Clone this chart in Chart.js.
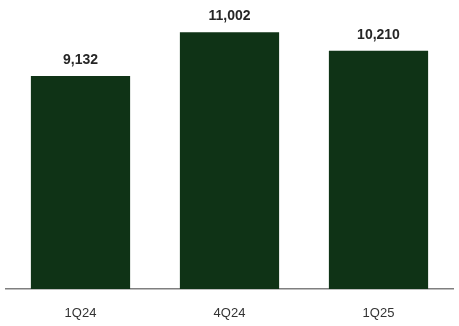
<!DOCTYPE html>
<html>
<head>
<meta charset="utf-8">
<script src="https://cdn.jsdelivr.net/npm/chart.js@4/dist/chart.umd.min.js"></script>
<style>
  html, body { margin: 0; padding: 0; background: #fff; }
  #wrap { width: 459px; height: 326px; position: relative; }
</style>
</head>
<body>
<div id="wrap"><canvas id="chart"></canvas></div>
<script>
const quarters = ['1Q24', '4Q24', '1Q25'];
const values = [9132, 11002, 10210];

const BAR_COLOR = '#0f3316';
const TEXT_COLOR = '#262626';

// draws the number above each bar, using the bar element positions
const valueLabels = {
  id: 'valueLabels',
  afterDatasetsDraw(chart) {
    const { ctx } = chart;
    const meta = chart.getDatasetMeta(0);
    ctx.save();
    ctx.font = 'bold 14px "Liberation Sans", Arial, sans-serif';
    ctx.fillStyle = TEXT_COLOR;
    ctx.textAlign = 'center';
    ctx.textBaseline = 'bottom';
    meta.data.forEach((bar, i) => {
      ctx.fillText(values[i].toLocaleString('en-US'), bar.x, bar.y - 9);
    });
    ctx.restore();
  },
};

new Chart(document.getElementById('chart'), {
  type: 'bar',
  data: {
    labels: quarters,
    datasets: [{
      data: values,
      backgroundColor: BAR_COLOR,
      borderWidth: 0,
      categoryPercentage: 1,
      barPercentage: 0.666,
    }],
  },
  options: {
    responsive: true,
    maintainAspectRatio: false,
    animation: false,
    layout: { padding: { left: 6, right: 6, top: 9, bottom: 0 } },
    plugins: { legend: { display: false }, tooltip: { enabled: false } },
    scales: {
      x: {
        afterFit(scale) { scale.height = 37; },
        grid: { display: false, drawTicks: false },
        border: { display: true, color: '#7f7f7f', width: 1.5 },
        ticks: { color: '#333', padding: 17, font: { size: 13, family: '"Liberation Sans", Arial, sans-serif' } },
      },
      y: {
        display: false,
        min: 0,
        max: 12000,
      },
    },
  },
  plugins: [valueLabels],
});
</script>
</body>
</html>
